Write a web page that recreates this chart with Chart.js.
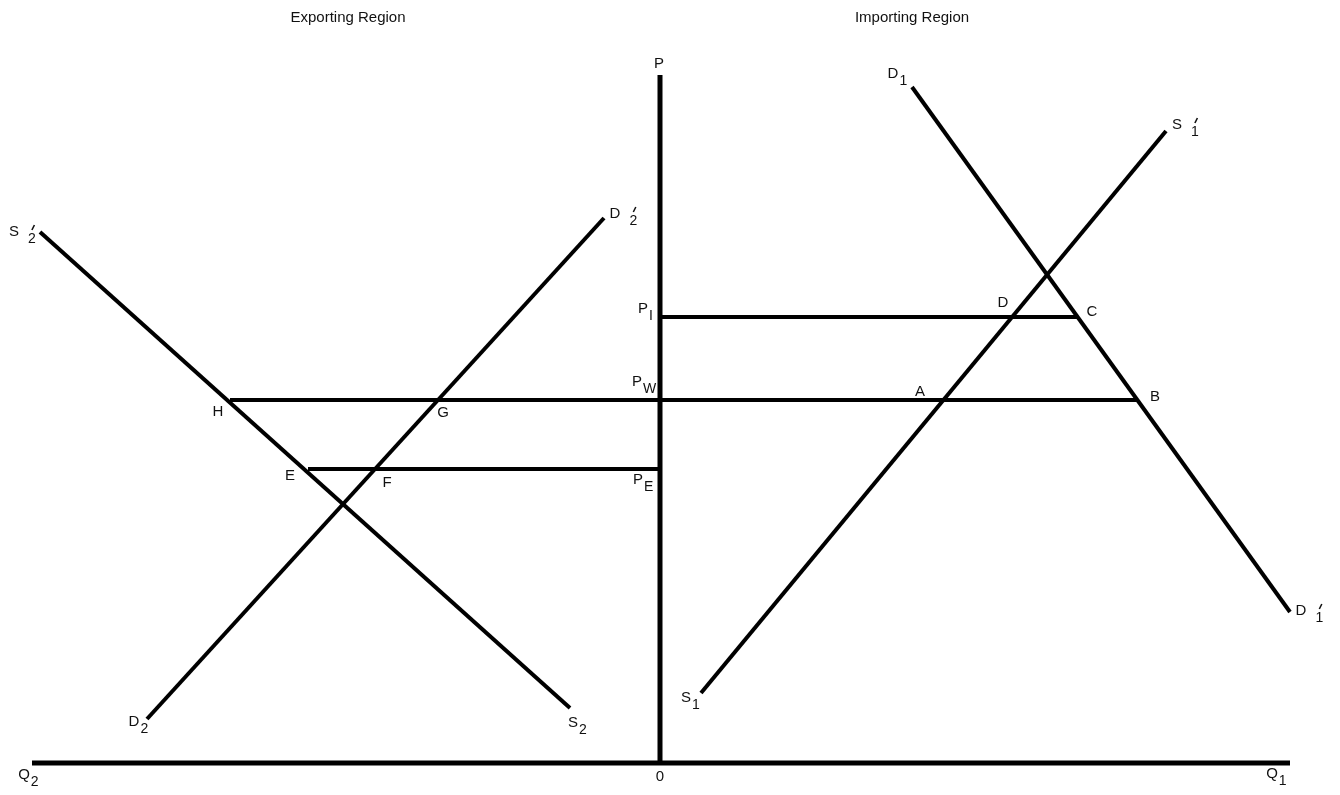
<!DOCTYPE html>
<html>
<head>
<meta charset="utf-8">
<script src="https://cdn.jsdelivr.net/npm/chart.js@4"></script>
<style>
  html, body { margin: 0; padding: 0; background: #fff; }
  #wrap { width: 1340px; height: 795px; }
</style>
</head>
<body>
<div id="wrap"><canvas id="diagram" width="1340" height="795"></canvas></div>
<script>
// quantity (x) and price (y) units; exporting region on the left of 0
const quantityAxis = [{x: -62.8, y: 0}, {x: 63, y: 0}];
const priceAxis = [{x: 0, y: 0}, {x: 0, y: 68.8}];

const importDemand = [{x: 25.2, y: 67.6}, {x: 63, y: 15.1}];
const importSupply = [{x: 4.1, y: 7.0}, {x: 50.6, y: 63.2}];
const exportSupply = [{x: -62, y: 53.1}, {x: -9, y: 5.5}];
const exportDemand = [{x: -51.3, y: 4.4}, {x: -5.6, y: 54.5}];

const priceImport = [{x: 0, y: 44.6}, {x: 41.8, y: 44.6}];
const priceWorld = [{x: -43, y: 36.3}, {x: 47.7, y: 36.3}];
const priceExport = [{x: -35.2, y: 29.4}, {x: 0, y: 29.4}];

const titles = [
    {text: 'Exporting Region', x: -31.2, y: 74.5},
    {text: 'Importing Region', x: 25.2, y: 74.5}
];

// [main, subscript, prime, x, y]
const labels = [
    ['P', '', false, -0.1, 69.9],
    ['P', 'I', false, -1.7, 45.4],
    ['P', 'W', false, -2.3, 38.1],
    ['P', 'E', false, -2.2, 28.3],
    ['D', '1', false, 23.3, 68.9],
    ['S', '1', true, 51.7, 63.8],
    ['D', '1', true, 64.1, 15.2],
    ['D', '2', true, -4.5, 54.9],
    ['S', '2', true, -64.6, 53.1],
    ['S', '1', false, 2.6, 6.5],
    ['S', '2', false, -8.7, 4.0],
    ['D', '2', false, -52.6, 4.1],
    ['Q', '2', false, -63.6, -1.2],
    ['0', '', false, 0, -1.4],
    ['Q', '1', false, 61.2, -1.1],
    ['H', '', false, -44.2, 35.1],
    ['G', '', false, -21.7, 35.0],
    ['E', '', false, -37, 28.7],
    ['F', '', false, -27.3, 28.0],
    ['D', '', false, 34.3, 46.0],
    ['C', '', false, 43.2, 45.1],
    ['A', '', false, 26, 37.1],
    ['B', '', false, 49.5, 36.6]
];

const segments = [quantityAxis, priceAxis, importDemand, importSupply, exportSupply,
    exportDemand, priceImport, priceWorld, priceExport];

const labelPlugin = {
    id: 'diagramLabels',
    afterDatasetsDraw(chart) {
        const ctx = chart.ctx;
        const xs = chart.scales.x;
        const ys = chart.scales.y;
        ctx.save();
        ctx.fillStyle = '#111';
        ctx.strokeStyle = '#111';
        ctx.textAlign = 'center';
        ctx.textBaseline = 'middle';

        ctx.font = '15px "Liberation Sans", Arial, sans-serif';
        titles.forEach(t => {
            ctx.fillText(t.text, xs.getPixelForValue(t.x), ys.getPixelForValue(t.y));
        });

        labels.forEach(([main, sub, prime, x, y]) => {
            const px = xs.getPixelForValue(x);
            const py = ys.getPixelForValue(y);
            ctx.font = '15px "Liberation Sans", Arial, sans-serif';
            ctx.textAlign = 'center';
            ctx.fillText(main, px, py);
            if (sub) {
                const w = ctx.measureText(main).width;
                const gap = prime ? 9 : 1;
                ctx.font = '14px "Liberation Sans", Arial, sans-serif';
                const sw = ctx.measureText(sub).width;
                ctx.textAlign = 'left';
                ctx.fillText(sub, px + w / 2 + gap, py + 7);
                if (prime) {
                    // small acute stroke above the subscript
                    const cx = px + w / 2 + gap + sw / 2 + 1;
                    ctx.lineWidth = 1.6;
                    ctx.beginPath();
                    ctx.moveTo(cx - 1, py - 2);
                    ctx.lineTo(cx + 1.5, py - 7);
                    ctx.stroke();
                }
            }
        });
        ctx.restore();
    }
};

new Chart(document.getElementById('diagram').getContext('2d'), {
    type: 'scatter',
    data: {
        datasets: segments.map((seg, i) => ({
            data: seg,
            showLine: true,
            borderColor: '#000',
            borderWidth: i < 2 ? 5 : 4,
            borderCapStyle: 'butt',
            pointRadius: 0,
            fill: false
        }))
    },
    options: {
        responsive: false,
        animation: false,
        devicePixelRatio: 1,
        layout: { padding: 0 },
        plugins: {
            legend: { display: false },
            tooltip: { enabled: false },
            title: { display: false }
        },
        scales: {
            x: { type: 'linear', display: false, min: -66, max: 68 },
            y: { type: 'linear', display: false, min: -3.2, max: 76.3 }
        }
    },
    plugins: [labelPlugin]
});
</script>
</body>
</html>
